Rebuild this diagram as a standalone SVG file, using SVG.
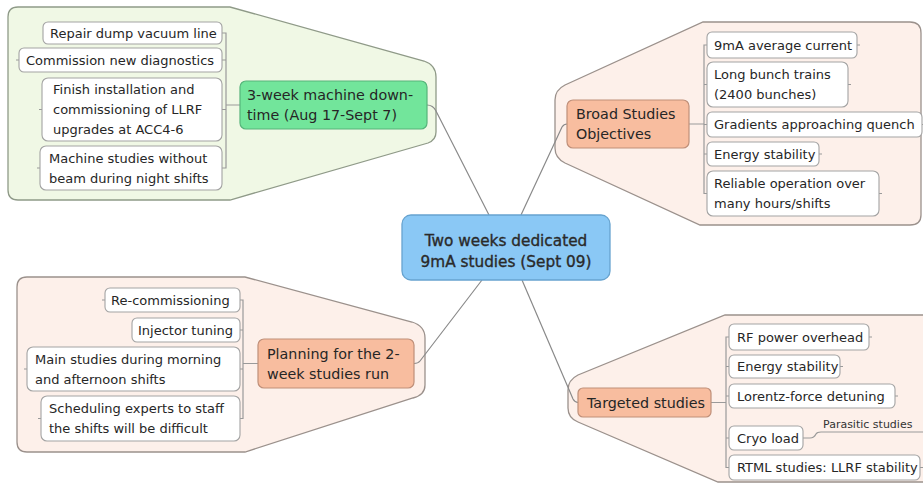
<svg xmlns="http://www.w3.org/2000/svg" width="923" height="489" viewBox="0 0 923 489">
<style>
.bg{fill:#ffffff}
.clg{fill:#f0f8e5;stroke:#8f9a88;stroke-width:1.3}
.clp{fill:#fdf0ea;stroke:#9b918c;stroke-width:1.3}
.leaf{fill:#ffffff;stroke:#a3a3a3;stroke-width:1.1}
.green{fill:#72e59b;stroke:#56b47a;stroke-width:1.2}
.orange{fill:#f8bd9f;stroke:#bf8f79;stroke-width:1.2}
.center{fill:#8ac8f5;stroke:#67a3cf;stroke-width:1.3}
.t{font-family:"DejaVu Sans","Liberation Sans",sans-serif;font-size:13px;fill:#262626}
.tm{font-family:"DejaVu Sans","Liberation Sans",sans-serif;font-size:14.3px;fill:#262626}
.tc{font-family:"DejaVu Sans","Liberation Sans",sans-serif;font-size:15.3px;fill:#2a2a2a;stroke:#2a2a2a;stroke-width:0.35;text-anchor:middle}
.ts{font-family:"DejaVu Sans","Liberation Sans",sans-serif;font-size:11px;fill:#333}
.br{fill:none;stroke:#9a9a9a;stroke-width:1.2}
.cn{fill:none;stroke:#8a8a8a;stroke-width:1.2}
</style>
<rect class="bg" x="0" y="0" width="923" height="489"/>

<g id="boundaries">
<path class="clg" d="M18,7 H230 L424,61 Q436,65 436,77 V132 Q436,140 428,143 L230,200 H18 Q8,200 8,190 V17 Q8,7 18,7 Z"/>
<path class="clp" d="M703,22 H910 Q921,22 921,33 V215 Q921,225 910,225 H700 L565,163 Q555,158 555,148 V100 Q555,90 565,85 Z"/>
<path class="clp" d="M27,277 H245 L412,322 Q425,326 425,338 V385 Q425,395 413,398 L245,452 H27 Q17,452 17,442 V287 Q17,277 27,277 Z"/>
<path class="clp" d="M725,315 H935 V482 H718 L578,422 Q568,418 568,408 V390 Q568,380 578,375 Z"/>
</g>

<g id="connectors">
<path class="cn" d="M427,105 Q433,105 436,111 L489,215"/>
<path class="cn" d="M521,215 L562,127 Q564,124 567,124"/>
<path class="cn" d="M414,363.5 Q418,363.5 420,361 L482,280"/>
<path class="cn" d="M522,280 L573,399 Q575,402.5 578,402.5"/>
<!-- brackets -->
<path class="br" d="M222,33 H226 V168 H222 M222,60 H226 M222,109.5 H226 M226,105 H240"/>
<path class="br" d="M707,45 H704 V193.5 H707 M704,84.5 H707 M704,124.5 H707 M704,154 H707 M689,124 H704"/>
<path class="br" d="M240,300 H243 V418.5 H240 M240,330 H243 M240,369 H243 M243,363.5 H258"/>
<path class="br" d="M729,337 H726 V467.5 H729 M726,366.5 H729 M726,396 H729 M726,438 H729 M711,402.5 H726"/>
<!-- far-side ticks -->
<path class="br" d="M857,45 H860 M848,84.5 H851 M922,124.5 H924 M819,154 H822 M879,193.5 H882"/>
<path class="br" d="M869,337 H872 M840,366.5 H843 M895,396 H898 M920,467.5 H923"/>
<path class="br" d="M42,109.5 H39 M40,168 H37 M19,60 H16"/>
<path class="br" d="M27,369 H24 M41,418.5 H38 M105,300 H102"/>
<path class="br" d="M803,438 H810 Q814,438 816,434 Q817,432 821,432 H923"/>
</g>

<g id="center">
<rect class="center" x="402" y="215" width="208" height="65" rx="9"/>
<text class="tc" x="506" y="246">Two weeks dedicated</text>
<text class="tc" x="506" y="267">9mA studies (Sept 09)</text>
</g>

<g id="downtime">
<rect class="green" x="240" y="81" width="187" height="48" rx="6"/>
<text class="tm" x="247" y="100">3-week machine down-</text>
<text class="tm" x="247" y="120">time (Aug 17-Sept 7)</text>
</g>
<g id="dt1"><rect class="leaf" x="43" y="22" width="179" height="22" rx="5"/><text class="t" x="50" y="37.5">Repair dump vacuum line</text></g>
<g id="dt2"><rect class="leaf" x="19" y="48" width="203" height="24" rx="5"/><text class="t" x="26" y="64.5">Commission new diagnostics</text></g>
<g id="dt3"><rect class="leaf" x="42" y="78" width="180" height="63" rx="6"/>
<text class="t" x="53" y="94">Finish installation and</text>
<text class="t" x="53" y="114">commissioning of LLRF</text>
<text class="t" x="53" y="134">upgrades at ACC4-6</text></g>
<g id="dt4"><rect class="leaf" x="40" y="146" width="182" height="44" rx="6"/>
<text class="t" x="49" y="163">Machine studies without</text>
<text class="t" x="49" y="183">beam during night shifts</text></g>

<g id="broad">
<rect class="orange" x="567" y="100" width="122" height="48" rx="6"/>
<text class="tm" x="576" y="119">Broad Studies</text>
<text class="tm" x="576" y="139">Objectives</text>
</g>
<g id="b1"><rect class="leaf" x="707" y="32" width="150" height="26" rx="5"/><text class="t" x="714" y="50">9mA average current</text></g>
<g id="b2"><rect class="leaf" x="707" y="62" width="141" height="45" rx="6"/>
<text class="t" x="714" y="79">Long bunch trains</text>
<text class="t" x="714" y="99">(2400 bunches)</text></g>
<g id="b3"><rect class="leaf" x="707" y="112" width="215" height="25" rx="5"/><text class="t" x="714" y="129">Gradients approaching quench</text></g>
<g id="b4"><rect class="leaf" x="707" y="142" width="112" height="24" rx="5"/><text class="t" x="714" y="158.5">Energy stability</text></g>
<g id="b5"><rect class="leaf" x="707" y="171" width="172" height="45" rx="6"/>
<text class="t" x="714" y="188">Reliable operation over</text>
<text class="t" x="714" y="208">many hours/shifts</text></g>

<g id="planning">
<rect class="orange" x="258" y="339" width="156" height="49" rx="6"/>
<text class="tm" x="267" y="358.5">Planning for the 2-</text>
<text class="tm" x="267" y="378.5">week studies run</text>
</g>
<g id="p1"><rect class="leaf" x="105" y="288" width="135" height="24" rx="5"/><text class="t" x="111" y="304.5">Re-commissioning</text></g>
<g id="p2"><rect class="leaf" x="132" y="318" width="108" height="24" rx="5"/><text class="t" x="138" y="334.5">Injector tuning</text></g>
<g id="p3"><rect class="leaf" x="27" y="347" width="213" height="44" rx="6"/>
<text class="t" x="35" y="364">Main studies during morning</text>
<text class="t" x="35" y="384">and afternoon shifts</text></g>
<g id="p4"><rect class="leaf" x="41" y="396" width="199" height="45" rx="6"/>
<text class="t" x="49" y="413">Scheduling experts to staff</text>
<text class="t" x="49" y="433">the shifts will be difficult</text></g>

<g id="targeted">
<rect class="orange" x="578" y="388" width="133" height="29" rx="5"/>
<text class="tm" x="587" y="408">Targeted studies</text>
</g>
<g id="t1"><rect class="leaf" x="729" y="324" width="140" height="26" rx="5"/><text class="t" x="737" y="342">RF power overhead</text></g>
<g id="t2"><rect class="leaf" x="729" y="355" width="111" height="23" rx="5"/><text class="t" x="737" y="371">Energy stability</text></g>
<g id="t3"><rect class="leaf" x="729" y="384" width="166" height="24" rx="5"/><text class="t" x="737" y="400.5">Lorentz-force detuning</text></g>
<g id="t4"><rect class="leaf" x="729" y="426" width="74" height="24" rx="5"/><text class="t" x="737" y="442.5">Cryo load</text></g>
<g id="t5"><rect class="leaf" x="729" y="455" width="191" height="25" rx="5"/><text class="t" x="737" y="472">RTML studies: LLRF stability</text></g>
<g id="t4a"><text class="ts" x="823" y="428">Parasitic studies</text></g>
</svg>
